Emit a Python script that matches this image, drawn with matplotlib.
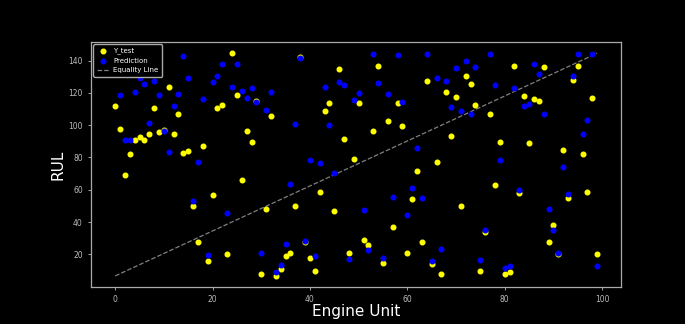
import numpy as np
import matplotlib
matplotlib.use('Agg')
import matplotlib.pyplot as plt

# valores (unidad 0..99)
y_test = [111.6, 97.7, 69.0, 82.2, 90.7, 92.8, 90.7, 94.6, 110.7, 95.8,
          97.2, 123.6, 94.6, 106.7, 83.0, 84.0, 49.8, 27.8, 87.1, 15.7,
          57.0, 110.7, 112.6, 20.0, 144.5, 118.5, 66.0, 96.6, 89.7, 115.0,
          8.0, 48.0, 105.6, 6.7, 11.0, 19.0, 20.8, 49.8, 141.9, 27.8,
          18.0, 9.8, 58.9, 108.7, 113.6, 47.0, 134.6, 91.5, 20.8, 78.8,
          113.6, 29.0, 25.9, 96.6, 136.5, 14.9, 102.6, 37.0, 113.6, 99.7,
          20.8, 54.0, 71.9, 28.0, 127.5, 13.9, 77.0, 8.0, 120.5, 93.6,
          117.7, 49.8, 130.7, 125.7, 112.6, 9.8, 33.7, 106.7, 62.7, 89.7,
          8.0, 9.0, 136.5, 57.8, 117.9, 88.9, 115.9, 114.8, 135.9, 27.8,
          38.0, 20.0, 84.8, 54.8, 127.7, 136.7, 81.9, 58.9, 116.7, 20.0]

y_pred = [140.0, 118.5, 91.1, 91.1, 120.4, 129.1, 125.7, 101.5, 127.1, 118.9,
          96.3, 83.2, 111.8, 119.1, 142.6, 129.1, 53.3, 77.4, 116.1, 19.6,
          126.5, 130.6, 138.1, 45.6, 123.6, 137.7, 121.4, 116.9, 123.0, 114.4,
          20.8, 109.1, 120.8, 9.0, 13.7, 26.7, 63.8, 100.5, 141.6, 28.4,
          78.2, 19.0, 76.8, 123.8, 100.1, 70.7, 126.5, 124.6, 16.9, 115.6,
          119.7, 47.6, 22.5, 144.1, 125.9, 18.0, 119.5, 55.4, 143.5, 114.2,
          44.5, 60.9, 86.0, 55.2, 144.3, 15.9, 129.1, 23.5, 127.3, 111.2,
          135.5, 108.5, 139.5, 106.7, 135.9, 16.7, 35.3, 144.3, 124.8, 78.7,
          11.6, 13.1, 123.0, 59.8, 111.6, 112.8, 138.1, 131.8, 106.7, 48.2,
          34.9, 20.6, 73.9, 57.2, 130.4, 143.8, 94.6, 103.4, 143.8, 12.6]

unidades = np.arange(len(y_test))
y_test = np.array(y_test)
y_pred = np.array(y_pred)

fig = plt.figure(figsize=(6.85, 3.24), dpi=100, facecolor='black')
ax = fig.add_axes([0.133, 0.114, 0.774, 0.756])
ax.set_facecolor('black')

ax.scatter(unidades, y_test, color='yellow', s=11, label='Y_test', zorder=2)
ax.scatter(unidades, y_pred, color='blue', s=11, label='Prediction', zorder=3)
# linea de igualdad
ax.plot([0, len(y_test) - 1], [y_test.min(), y_test.max()],
        color='gray', linestyle='--', linewidth=0.9, label='Equality Line', zorder=1)

ax.set_xlabel('Engine Unit', color='white', fontsize=11, labelpad=0)
ax.set_ylabel('RUL', color='white', fontsize=11, labelpad=2)
ax.set_xticks([0, 20, 40, 60, 80, 100])
ax.set_yticks([20, 40, 60, 80, 100, 120, 140])
ax.tick_params(colors='#bbbbbb', labelsize=5.5, length=2.5, width=0.6)
for s in ax.spines.values():
    s.set_color('#aaaaaa')
    s.set_linewidth(0.9)

leg = ax.legend(loc='upper left', fontsize=5, facecolor='black',
                edgecolor='#aaaaaa', labelcolor='white', framealpha=1,
                borderpad=0.5, handletextpad=0.6, handlelength=1.8,
                borderaxespad=0.3)
leg.set_zorder(5)

fig.savefig('out.png', dpi=100, facecolor='black')
